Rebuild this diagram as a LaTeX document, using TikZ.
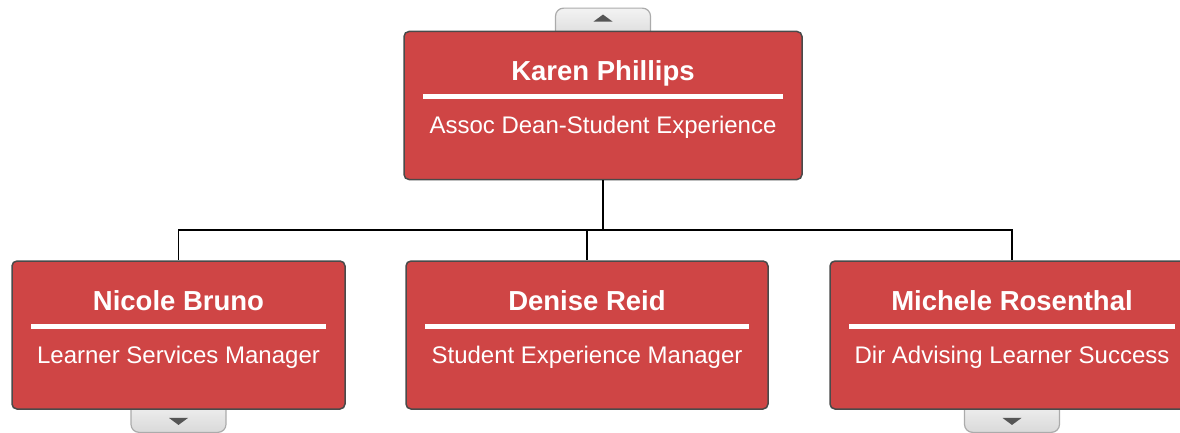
\documentclass[tikz,border=0pt]{standalone}
\usepackage{fontspec}
\setmainfont{Liberation Sans}
\usetikzlibrary{positioning,calc,backgrounds}

\definecolor{cardred}{HTML}{CF4545}
\definecolor{cardedge}{HTML}{4A4A4A}
\definecolor{tabtop}{HTML}{F3F3F3}
\definecolor{tabbot}{HTML}{D9D9D9}
\definecolor{tabedge}{HTML}{ABABAB}
\definecolor{tabarrow}{HTML}{555555}

\begin{document}
\begin{tikzpicture}[
    x=1pt,y=-1pt,
    node distance=0pt,
    card/.style={rounded corners=5pt,draw=cardedge,line width=1.5pt,fill=cardred,minimum height=148pt,inner sep=0pt},
    pname/.style={text=white,font=\fontsize{27.5}{32}\selectfont\bfseries,anchor=base,inner sep=0pt},
    ptitle/.style={text=white,font=\fontsize{24}{28}\selectfont,anchor=base,inner sep=0pt},
    rule/.style={white,line width=5.5pt},
    link/.style={black,line width=1.6pt},
    tab/.style={rounded corners=8pt,draw=tabedge,line width=1.2pt,top color=tabtop,bottom color=tabbot,minimum width=95pt,minimum height=32pt,inner sep=0pt}
]
\clip (0,0) rectangle (1180,433);

% cards
\node[card,minimum width=398pt] (karen) at (603,105.5) {};
\node[card,minimum width=333pt] (nicole) at (178.5,335) {};
\node[card,minimum width=362pt] (denise) at (587,335) {};
\node[card,minimum width=364pt] (michele) at (1012,335) {};

% tabs behind the cards
\begin{scope}[on background layer]
\node[tab,above=-10pt of karen] (uptab) {};
\node[tab,below=-10pt of nicole] (nicoletab) {};
\node[tab,below=-10pt of michele] (micheletab) {};
\end{scope}
\fill[tabarrow] ($(uptab.north)+(-9.5,14)$) -- ++(19,0) -- ++(-9.5,-7) -- cycle;
\fill[tabarrow] ($(nicoletab.south)+(-9.5,-15)$) -- ++(19,0) -- ++(-9.5,7) -- cycle;
\fill[tabarrow] ($(micheletab.south)+(-9.5,-15)$) -- ++(19,0) -- ++(-9.5,7) -- cycle;

% text
\node[pname] (karenname) at ($(karen.north)+(0,50)$) {Karen Phillips};
\node[ptitle] (karentitle) at ($(karen.north)+(0,103)$) {Assoc Dean-Student Experience};
\draw[rule] ($(karen.north west)+(20,66)$) -- ($(karen.north east)+(-20,66)$);

\node[pname] (nicolename) at ($(nicole.north)+(0,50)$) {Nicole Bruno};
\node[ptitle] (nicoletitle) at ($(nicole.north)+(0,103)$) {Learner Services Manager};
\draw[rule] ($(nicole.north west)+(20,66)$) -- ($(nicole.north east)+(-20,66)$);

\node[pname] (denisename) at ($(denise.north)+(0,50)$) {Denise Reid};
\node[ptitle] (denisetitle) at ($(denise.north)+(0,103)$) {Student Experience Manager};
\draw[rule] ($(denise.north west)+(20,66)$) -- ($(denise.north east)+(-20,66)$);

\node[pname] (michelename) at ($(michele.north)+(0,50)$) {Michele Rosenthal};
\node[ptitle] (micheletitle) at ($(michele.north)+(0,103)$) {Dir Advising Learner Success};
\draw[rule] ($(michele.north west)+(20,66)$) -- ($(michele.north east)+(-20,66)$);

% links
\draw[link] (karen.south) -- ++(0,50) -| (nicole.north);
\draw[link] (karen.south) -- ++(0,50) -| (denise.north);
\draw[link] (karen.south) -- ++(0,50) -| (michele.north);
\end{tikzpicture}
\end{document}
